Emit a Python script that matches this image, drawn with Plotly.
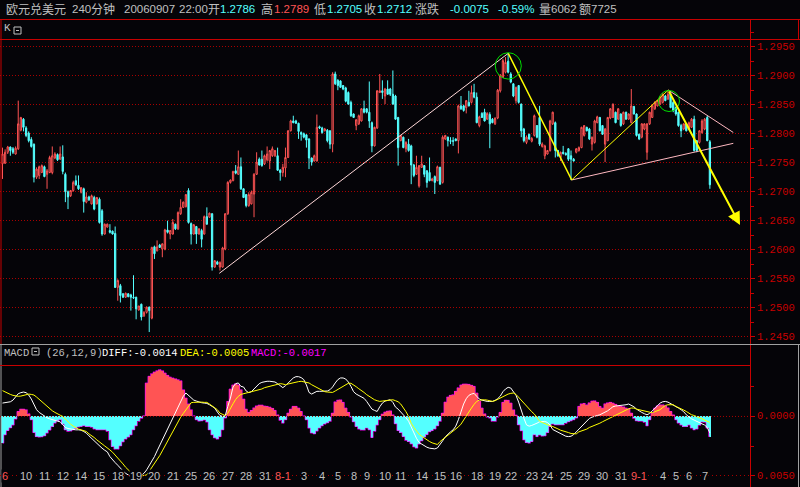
import plotly.graph_objects as go

# ---------------- data ----------------
open_ = [
1.2748,1.2749,1.2768,1.2777,1.2774,1.2765,1.2774,1.2806,1.2825,1.2810,
1.2801,1.2790,1.2782,1.2725,1.2728,1.2733,1.2743,1.2730,1.2733,1.2733,
1.2758,1.2764,1.2756,1.2760,1.2730,1.2700,1.2693,1.2702,1.2719,1.2711,
1.2699,1.2705,1.2682,1.2691,1.2679,1.2690,1.2679,1.2687,1.2667,1.2627,
1.2639,1.2633,1.2632,1.2628,1.2535,1.2538,1.2524,1.2518,1.2524,1.2522,
1.2518,1.2518,1.2496,1.2506,1.2486,1.2492,1.2501,1.2482,1.2605,1.2598,
1.2608,1.2601,1.2601,1.2634,1.2627,1.2627,1.2644,1.2636,1.2662,1.2673,
1.2674,1.2702,1.2645,1.2627,1.2640,1.2627,1.2633,1.2627,1.2657,1.2656,
1.2662,1.2570,1.2579,1.2570,1.2570,1.2601,1.2662,1.2716,1.2719,1.2736,
1.2730,1.2743,1.2705,1.2695,1.2676,1.2679,1.2696,1.2730,1.2756,1.2756,
1.2748,1.2755,1.2753,1.2762,1.2762,1.2762,1.2737,1.2733,1.2741,1.2759,
1.2805,1.2822,1.2822,1.2818,1.2802,1.2800,1.2798,1.2791,1.2758,1.2753,
1.2753,1.2812,1.2810,1.2805,1.2806,1.2805,1.2782,1.2903,1.2892,1.2891,
1.2883,1.2879,1.2871,1.2854,1.2834,1.2814,1.2817,1.2822,1.2843,1.2843,
1.2837,1.2819,1.2779,1.2810,1.2871,1.2874,1.2865,1.2877,1.2877,1.2868,
1.2865,1.2828,1.2788,1.2794,1.2774,1.2782,1.2779,1.2746,1.2730,1.2710,
1.2742,1.2745,1.2736,1.2733,1.2719,1.2726,1.2719,1.2742,1.2716,1.2791,
1.2794,1.2788,1.2788,1.2791,1.2788,1.2848,1.2848,1.2845,1.2854,1.2854,
1.2871,1.2863,1.2814,1.2835,1.2837,1.2825,1.2833,1.2825,1.2817,1.2827,
1.2874,1.2897,1.2906,1.2925,1.2903,1.2886,1.2857,1.2883,1.2851,1.2808,
1.2785,1.2799,1.2787,1.2797,1.2814,1.2828,1.2778,1.2762,1.2765,1.2771,
1.2817,1.2819,1.2771,1.2759,1.2768,1.2766,1.2774,1.2762,1.2756,1.2768,
1.2771,1.2776,1.2797,1.2811,1.2808,1.2782,1.2785,1.2819,1.2828,1.2814,
1.2782,1.2788,1.2827,1.2828,1.2837,1.2825,1.2834,1.2817,1.2837,1.2825,
1.2819,1.2847,1.2834,1.2799,1.2794,1.2808,1.2768,1.2817,1.2828,1.2843,
1.2848,1.2851,1.2854,1.2865,1.2860,1.2868,1.2854,1.2845,1.2837,1.2814,
1.2808,1.2817,1.2808,1.2811,1.2825,1.2788,1.2785,1.2802,1.2808,1.2828,
1.2786]

high = [
1.2776,1.2773,1.2779,1.2778,1.2777,1.2778,1.2857,1.2829,1.2827,1.2813,
1.2804,1.2794,1.2783,1.2742,1.2745,1.2747,1.2745,1.2739,1.2762,1.2778,
1.2768,1.2766,1.2778,1.2780,1.2733,1.2702,1.2703,1.2719,1.2728,1.2728,
1.2708,1.2707,1.2699,1.2693,1.2695,1.2693,1.2691,1.2690,1.2670,1.2645,
1.2645,1.2644,1.2633,1.2640,1.2549,1.2541,1.2525,1.2526,1.2525,1.2524,
1.2556,1.2519,1.2503,1.2507,1.2494,1.2502,1.2502,1.2605,1.2607,1.2616,
1.2610,1.2611,1.2636,1.2650,1.2634,1.2653,1.2645,1.2666,1.2687,1.2683,
1.2696,1.2706,1.2647,1.2644,1.2641,1.2637,1.2636,1.2659,1.2673,1.2664,
1.2663,1.2582,1.2581,1.2580,1.2605,1.2663,1.2718,1.2721,1.2736,1.2746,
1.2771,1.2759,1.2706,1.2696,1.2699,1.2702,1.2732,1.2768,1.2759,1.2771,
1.2764,1.2778,1.2772,1.2778,1.2772,1.2776,1.2739,1.2748,1.2776,1.2806,
1.2824,1.2831,1.2824,1.2819,1.2804,1.2802,1.2799,1.2792,1.2759,1.2764,
1.2833,1.2814,1.2812,1.2810,1.2808,1.2806,1.2906,1.2907,1.2894,1.2892,
1.2884,1.2881,1.2873,1.2857,1.2835,1.2825,1.2833,1.2844,1.2857,1.2844,
1.2890,1.2821,1.2812,1.2875,1.2903,1.2892,1.2879,1.2892,1.2879,1.2909,
1.2867,1.2829,1.2798,1.2795,1.2787,1.2791,1.2781,1.2748,1.2762,1.2746,
1.2762,1.2746,1.2737,1.2759,1.2724,1.2728,1.2745,1.2743,1.2797,1.2798,
1.2795,1.2794,1.2794,1.2792,1.2850,1.2865,1.2850,1.2858,1.2874,1.2883,
1.2886,1.2871,1.2831,1.2837,1.2843,1.2837,1.2837,1.2827,1.2828,1.2877,
1.2903,1.2929,1.2932,1.2939,1.2906,1.2887,1.2881,1.2884,1.2852,1.2810,
1.2797,1.2800,1.2794,1.2833,1.2815,1.2848,1.2785,1.2781,1.2772,1.2824,
1.2838,1.2821,1.2772,1.2769,1.2779,1.2768,1.2775,1.2771,1.2758,1.2775,
1.2778,1.2812,1.2815,1.2812,1.2810,1.2795,1.2824,1.2831,1.2829,1.2815,
1.2810,1.2829,1.2844,1.2852,1.2838,1.2844,1.2835,1.2838,1.2838,1.2835,
1.2877,1.2848,1.2835,1.2800,1.2818,1.2818,1.2818,1.2838,1.2850,1.2856,
1.2858,1.2864,1.2870,1.2867,1.2875,1.2871,1.2857,1.2847,1.2838,1.2817,
1.2818,1.2818,1.2821,1.2827,1.2831,1.2789,1.2806,1.2825,1.2827,1.2831,
1.2789]

low = [
1.2722,1.2748,1.2765,1.2762,1.2765,1.2764,1.2772,1.2804,1.2804,1.2794,
1.2785,1.2776,1.2716,1.2722,1.2722,1.2732,1.2725,1.2705,1.2732,1.2730,
1.2756,1.2753,1.2755,1.2730,1.2682,1.2670,1.2691,1.2700,1.2710,1.2703,
1.2697,1.2664,1.2680,1.2684,1.2678,1.2668,1.2678,1.2645,1.2624,1.2626,
1.2638,1.2628,1.2626,1.2534,1.2512,1.2509,1.2517,1.2517,1.2518,1.2495,
1.2515,1.2480,1.2495,1.2478,1.2484,1.2490,1.2458,1.2480,1.2584,1.2597,
1.2603,1.2587,1.2599,1.2628,1.2618,1.2626,1.2634,1.2634,1.2660,1.2672,
1.2673,1.2645,1.2609,1.2626,1.2610,1.2626,1.2604,1.2626,1.2643,1.2655,
1.2564,1.2569,1.2574,1.2564,1.2569,1.2599,1.2660,1.2714,1.2718,1.2730,
1.2729,1.2703,1.2689,1.2673,1.2674,1.2678,1.2656,1.2729,1.2745,1.2743,
1.2746,1.2752,1.2739,1.2760,1.2760,1.2736,1.2719,1.2726,1.2725,1.2758,
1.2804,1.2818,1.2817,1.2791,1.2788,1.2792,1.2776,1.2739,1.2745,1.2752,
1.2752,1.2808,1.2800,1.2804,1.2785,1.2774,1.2768,1.2884,1.2875,1.2879,
1.2875,1.2854,1.2850,1.2829,1.2827,1.2806,1.2815,1.2821,1.2835,1.2835,
1.2810,1.2768,1.2778,1.2808,1.2870,1.2860,1.2851,1.2867,1.2865,1.2850,
1.2824,1.2745,1.2787,1.2775,1.2768,1.2769,1.2713,1.2725,1.2729,1.2707,
1.2741,1.2725,1.2707,1.2718,1.2718,1.2696,1.2718,1.2712,1.2714,1.2789,
1.2778,1.2782,1.2779,1.2787,1.2766,1.2841,1.2838,1.2835,1.2847,1.2852,
1.2861,1.2818,1.2811,1.2827,1.2821,1.2824,1.2775,1.2818,1.2815,1.2825,
1.2871,1.2896,1.2904,1.2904,1.2887,1.2863,1.2852,1.2852,1.2794,1.2785,
1.2782,1.2789,1.2785,1.2795,1.2792,1.2779,1.2776,1.2756,1.2764,1.2769,
1.2815,1.2759,1.2760,1.2753,1.2764,1.2762,1.2753,1.2720,1.2752,1.2766,
1.2769,1.2775,1.2795,1.2804,1.2789,1.2771,1.2783,1.2818,1.2804,1.2798,
1.2751,1.2787,1.2825,1.2827,1.2818,1.2824,1.2812,1.2815,1.2824,1.2824,
1.2818,1.2833,1.2795,1.2789,1.2792,1.2806,1.2755,1.2815,1.2827,1.2841,
1.2847,1.2850,1.2852,1.2856,1.2858,1.2844,1.2837,1.2831,1.2812,1.2794,
1.2806,1.2804,1.2806,1.2810,1.2769,1.2768,1.2783,1.2800,1.2806,1.2787,
1.2705]

close = [
1.2765,1.2768,1.2777,1.2771,1.2768,1.2775,1.2817,1.2828,1.2811,1.2797,
1.2788,1.2778,1.2725,1.2739,1.2743,1.2745,1.2726,1.2736,1.2759,1.2762,
1.2765,1.2755,1.2765,1.2735,1.2700,1.2691,1.2702,1.2716,1.2712,1.2705,
1.2707,1.2683,1.2691,1.2686,1.2693,1.2670,1.2690,1.2647,1.2627,1.2644,
1.2644,1.2630,1.2627,1.2535,1.2547,1.2521,1.2518,1.2525,1.2519,1.2518,
1.2517,1.2498,1.2503,1.2484,1.2492,1.2501,1.2495,1.2604,1.2593,1.2605,
1.2604,1.2610,1.2634,1.2630,1.2633,1.2647,1.2636,1.2664,1.2673,1.2682,
1.2695,1.2647,1.2627,1.2643,1.2627,1.2636,1.2618,1.2657,1.2644,1.2663,
1.2570,1.2581,1.2575,1.2578,1.2603,1.2662,1.2716,1.2720,1.2735,1.2732,
1.2743,1.2705,1.2690,1.2676,1.2695,1.2699,1.2730,1.2751,1.2746,1.2745,
1.2762,1.2765,1.2771,1.2774,1.2771,1.2737,1.2733,1.2742,1.2759,1.2805,
1.2822,1.2819,1.2818,1.2804,1.2799,1.2794,1.2789,1.2758,1.2751,1.2762,
1.2811,1.2810,1.2802,1.2808,1.2788,1.2782,1.2903,1.2886,1.2883,1.2880,
1.2877,1.2856,1.2851,1.2831,1.2828,1.2824,1.2831,1.2843,1.2837,1.2837,
1.2822,1.2779,1.2811,1.2874,1.2874,1.2871,1.2877,1.2868,1.2868,1.2851,
1.2825,1.2776,1.2797,1.2776,1.2785,1.2771,1.2746,1.2728,1.2742,1.2745,
1.2748,1.2730,1.2716,1.2719,1.2722,1.2716,1.2743,1.2713,1.2794,1.2797,
1.2788,1.2787,1.2787,1.2788,1.2848,1.2843,1.2840,1.2857,1.2848,1.2871,
1.2863,1.2819,1.2829,1.2828,1.2822,1.2835,1.2817,1.2819,1.2827,1.2875,
1.2900,1.2926,1.2923,1.2906,1.2889,1.2865,1.2880,1.2854,1.2805,1.2788,
1.2794,1.2791,1.2792,1.2831,1.2794,1.2782,1.2782,1.2779,1.2771,1.2822,
1.2837,1.2771,1.2762,1.2768,1.2766,1.2764,1.2756,1.2756,1.2753,1.2774,
1.2776,1.2811,1.2814,1.2805,1.2791,1.2794,1.2822,1.2829,1.2805,1.2799,
1.2808,1.2828,1.2843,1.2851,1.2819,1.2843,1.2814,1.2837,1.2825,1.2834,
1.2848,1.2834,1.2797,1.2791,1.2817,1.2817,1.2817,1.2837,1.2848,1.2854,
1.2857,1.2863,1.2868,1.2857,1.2868,1.2845,1.2840,1.2834,1.2814,1.2805,
1.2817,1.2805,1.2819,1.2825,1.2771,1.2771,1.2805,1.2822,1.2825,1.2788,
1.2712]

macd_bar = [
-0.00226,-0.00155,-0.00119,-0.00096,-0.00073,-0.00023,0.00042,0.00062,0.00062,0.00057,
0.00023,-0.00028,-0.00136,-0.00170,-0.00175,-0.00172,-0.00164,-0.00141,-0.00116,-0.00085,
-0.00057,-0.00037,-0.00028,-0.00065,-0.00113,-0.00127,-0.00124,-0.00113,-0.00102,-0.00090,
-0.00085,-0.00079,-0.00085,-0.00085,-0.00093,-0.00107,-0.00113,-0.00113,-0.00113,-0.00113,
-0.00127,-0.00198,-0.00254,-0.00277,-0.00277,-0.00249,-0.00215,-0.00192,-0.00175,-0.00155,
-0.00113,-0.00079,-0.00042,-0.00017,0.00006,0.00283,0.00339,0.00362,0.00376,0.00387,
0.00396,0.00387,0.00367,0.00347,0.00333,0.00325,0.00319,0.00311,0.00302,0.00226,
0.00155,0.00107,0.00057,0.00006,-0.00028,-0.00040,-0.00037,-0.00031,-0.00048,-0.00113,
-0.00155,-0.00181,-0.00192,-0.00170,-0.00113,-0.00014,0.00127,0.00232,0.00266,0.00277,
0.00268,0.00226,0.00147,0.00062,0.00034,0.00051,0.00073,0.00090,0.00096,0.00096,
0.00088,0.00085,0.00079,0.00068,0.00051,0.00014,-0.00034,-0.00057,-0.00028,0.00028,
0.00062,0.00085,0.00085,0.00071,0.00042,0.00006,-0.00028,-0.00099,-0.00141,-0.00147,
-0.00124,-0.00099,-0.00079,-0.00065,-0.00054,-0.00042,0.00028,0.00124,0.00138,0.00141,
0.00119,0.00071,0.00034,-0.00006,-0.00045,-0.00085,-0.00107,-0.00116,-0.00116,-0.00099,
-0.00113,-0.00178,-0.00127,-0.00073,-0.00028,0.00020,0.00037,0.00045,0.00048,0.00014,
-0.00062,-0.00119,-0.00136,-0.00170,-0.00203,-0.00212,-0.00232,-0.00257,-0.00268,-0.00234,
-0.00206,-0.00175,-0.00153,-0.00130,-0.00119,-0.00107,-0.00079,-0.00042,0.00028,0.00121,
0.00164,0.00178,0.00184,0.00212,0.00243,0.00266,0.00274,0.00274,0.00271,0.00263,
0.00254,0.00198,0.00130,0.00071,0.00023,-0.00006,-0.00014,-0.00042,-0.00042,-0.00006,
0.00034,0.00119,0.00138,0.00136,0.00113,0.00057,0.00011,-0.00071,-0.00121,-0.00198,
-0.00220,-0.00226,-0.00212,-0.00155,-0.00170,-0.00158,-0.00167,-0.00164,-0.00136,-0.00085,
-0.00065,-0.00071,-0.00071,-0.00071,-0.00071,-0.00059,-0.00045,-0.00037,-0.00028,-0.00014,
0.00085,0.00107,0.00110,0.00099,0.00116,0.00130,0.00133,0.00119,0.00085,0.00071,
0.00107,0.00116,0.00119,0.00113,0.00102,0.00090,0.00085,0.00082,0.00071,0.00065,
0.00028,-0.00017,-0.00037,-0.00042,-0.00042,-0.00051,-0.00079,-0.00028,0.00028,0.00071,
0.00090,0.00099,0.00099,0.00090,0.00073,0.00042,0.00014,-0.00028,-0.00057,-0.00073,
-0.00085,-0.00085,-0.00073,-0.00099,-0.00113,-0.00107,-0.00076,-0.00048,-0.00051,-0.00099,
-0.00170]

diff = [
0.00113,0.00116,0.00119,0.00124,0.00138,0.00164,0.00192,0.00201,0.00206,0.00201,
0.00181,0.00147,0.00105,0.00057,0.00034,0.00020,0.00000,-0.00011,-0.00020,-0.00028,
-0.00034,-0.00040,-0.00045,-0.00071,-0.00093,-0.00102,-0.00107,-0.00113,-0.00113,-0.00113,
-0.00116,-0.00127,-0.00141,-0.00164,-0.00186,-0.00206,-0.00226,-0.00249,-0.00268,-0.00285,
-0.00299,-0.00339,-0.00367,-0.00390,-0.00412,-0.00438,-0.00460,-0.00480,-0.00497,-0.00509,
-0.00514,-0.00514,-0.00509,-0.00497,-0.00480,-0.00452,-0.00418,-0.00381,-0.00339,-0.00291,
-0.00246,-0.00198,-0.00147,-0.00102,-0.00057,-0.00017,0.00028,0.00076,0.00121,0.00170,
0.00198,0.00175,0.00153,0.00138,0.00130,0.00121,0.00116,0.00113,0.00110,0.00099,
0.00088,0.00071,0.00037,0.00008,0.00000,0.00006,0.00085,0.00155,0.00249,0.00277,
0.00283,0.00254,0.00249,0.00215,0.00201,0.00209,0.00232,0.00254,0.00277,0.00288,
0.00294,0.00297,0.00297,0.00297,0.00291,0.00277,0.00263,0.00243,0.00260,0.00280,
0.00302,0.00325,0.00336,0.00336,0.00328,0.00311,0.00266,0.00203,0.00189,0.00201,
0.00212,0.00212,0.00212,0.00212,0.00215,0.00226,0.00249,0.00283,0.00311,0.00325,
0.00325,0.00316,0.00291,0.00254,0.00209,0.00189,0.00175,0.00167,0.00153,0.00127,
0.00093,0.00062,0.00051,0.00042,0.00082,0.00113,0.00130,0.00136,0.00141,0.00119,
0.00079,0.00062,0.00040,0.00017,-0.00011,-0.00040,-0.00090,-0.00138,-0.00184,-0.00220,
-0.00234,-0.00249,-0.00260,-0.00268,-0.00274,-0.00274,-0.00266,-0.00240,-0.00206,-0.00172,
-0.00147,-0.00130,-0.00113,-0.00082,-0.00028,0.00045,0.00105,0.00150,0.00178,0.00189,
0.00195,0.00170,0.00147,0.00138,0.00130,0.00127,0.00127,0.00127,0.00136,0.00150,
0.00172,0.00209,0.00232,0.00246,0.00240,0.00212,0.00178,0.00121,0.00042,-0.00014,
-0.00071,-0.00082,-0.00076,-0.00068,-0.00057,-0.00045,-0.00042,-0.00042,-0.00051,-0.00073,
-0.00110,-0.00121,-0.00133,-0.00144,-0.00155,-0.00167,-0.00170,-0.00167,-0.00153,-0.00130,
-0.00107,-0.00085,-0.00062,-0.00040,-0.00017,-0.00006,0.00003,0.00008,0.00014,0.00025,
0.00037,0.00048,0.00065,0.00082,0.00088,0.00090,0.00093,0.00096,0.00099,0.00105,
0.00096,0.00082,0.00062,0.00045,0.00034,0.00023,0.00014,0.00025,0.00048,0.00071,
0.00096,0.00113,0.00124,0.00127,0.00121,0.00110,0.00099,0.00085,0.00071,0.00057,
0.00040,0.00014,-0.00006,-0.00020,-0.00031,-0.00042,-0.00054,-0.00062,-0.00073,-0.00093,
-0.00140]

dea = [
0.00218,0.00206,0.00198,0.00186,0.00178,0.00172,0.00170,0.00172,0.00178,0.00186,
0.00189,0.00186,0.00181,0.00164,0.00144,0.00127,0.00105,0.00082,0.00062,0.00048,
0.00034,0.00020,0.00011,0.00000,-0.00023,-0.00045,-0.00065,-0.00082,-0.00096,-0.00107,
-0.00113,-0.00119,-0.00127,-0.00147,-0.00161,-0.00178,-0.00198,-0.00212,-0.00232,-0.00249,
-0.00263,-0.00283,-0.00302,-0.00325,-0.00347,-0.00370,-0.00401,-0.00429,-0.00452,-0.00472,
-0.00483,-0.00494,-0.00500,-0.00503,-0.00500,-0.00494,-0.00463,-0.00432,-0.00401,-0.00367,
-0.00331,-0.00291,-0.00251,-0.00201,-0.00161,-0.00119,-0.00079,-0.00040,-0.00006,0.00025,
0.00054,0.00085,0.00116,0.00119,0.00121,0.00121,0.00121,0.00119,0.00119,0.00105,
0.00090,0.00073,0.00057,0.00028,0.00017,0.00008,0.00028,0.00062,0.00107,0.00144,
0.00170,0.00186,0.00192,0.00198,0.00201,0.00206,0.00212,0.00218,0.00223,0.00232,
0.00243,0.00249,0.00254,0.00260,0.00266,0.00271,0.00277,0.00274,0.00268,0.00274,
0.00280,0.00283,0.00288,0.00294,0.00297,0.00294,0.00291,0.00283,0.00268,0.00257,
0.00243,0.00229,0.00218,0.00209,0.00206,0.00203,0.00203,0.00215,0.00229,0.00243,
0.00257,0.00271,0.00280,0.00280,0.00268,0.00251,0.00234,0.00220,0.00203,0.00184,
0.00170,0.00153,0.00141,0.00133,0.00127,0.00130,0.00133,0.00136,0.00138,0.00141,
0.00133,0.00124,0.00105,0.00075,0.00040,0.00000,-0.00057,-0.00093,-0.00121,-0.00150,
-0.00167,-0.00184,-0.00198,-0.00212,-0.00223,-0.00229,-0.00237,-0.00212,-0.00195,-0.00178,
-0.00161,-0.00144,-0.00127,-0.00107,-0.00088,-0.00065,-0.00028,-0.00003,0.00040,0.00071,
0.00102,0.00127,0.00138,0.00141,0.00141,0.00138,0.00133,0.00127,0.00133,0.00144,
0.00155,0.00170,0.00181,0.00189,0.00195,0.00198,0.00186,0.00161,0.00133,0.00107,
0.00085,0.00062,0.00040,0.00020,-0.00006,-0.00040,-0.00051,-0.00062,-0.00073,-0.00079,
-0.00085,-0.00093,-0.00105,-0.00116,-0.00121,-0.00127,-0.00136,-0.00144,-0.00147,-0.00147,
-0.00130,-0.00124,-0.00119,-0.00107,-0.00093,-0.00085,-0.00079,-0.00068,-0.00057,-0.00045,
-0.00034,-0.00025,-0.00011,0.00000,0.00011,0.00023,0.00034,0.00048,0.00059,0.00065,
0.00071,0.00071,0.00062,0.00057,0.00051,0.00045,0.00040,0.00034,0.00031,0.00040,
0.00048,0.00057,0.00076,0.00093,0.00099,0.00099,0.00099,0.00085,0.00076,0.00065,
0.00054,0.00042,0.00028,0.00014,0.00008,0.00000,-0.00008,-0.00020,-0.00031,-0.00042,
-0.00050]

date_labels = ["6", "10", "11", "12", "14", "15", "18", "19", "20", "21", "25", "26",
               "27", "28", "31", "8-1", "3", "4", "5", "8", "9", "10", "11", "14",
               "15", "16", "18", "19", "22", "23", "24", "25", "29", "30", "31",
               "9-1", "4", "5", "6", "7"]
date_label_bar = [1, 9, 16, 23, 30, 37, 44, 51, 58, 65, 72, 79, 86, 93, 100, 107,
                  115, 122, 128, 134, 139, 146, 152, 160, 167, 173, 181, 188, 194,
                  202, 208, 215, 222, 229, 236, 243, 252, 257, 262, 268]
month_start_labels = {0, 15, 35}

price_ticks = [1.2450, 1.2500, 1.2550, 1.2600, 1.2650, 1.2700, 1.2750,
               1.2800, 1.2850, 1.2900, 1.2950]
macd_ticks = [0.0, -0.005]
macd_ticktext = ["0.0000", "0.0050"]

# hand-drawn analysis lines (bar index, price)
trend_up = [(82.75, 1.25593), (193.05, 1.29386)]
zig1 = [(193.05, 1.29386), (217.25, 1.27202)]
zig2 = [(217.25, 1.27202), (254.12, 1.28753)]
arrow_pts = [(254.12, 1.28753), (281.49, 1.26426)]
wedge_low = [(217.25, 1.27202), (278.94, 1.27834)]
wedge_high = [(254.12, 1.28753), (278.94, 1.28021)]
circle1 = (188.09, 198.02, 1.28941, 1.29397)
circle2 = (250.38, 258.40, 1.28383, 1.28745)

# ---------------- styling ----------------
W, H = 800, 487
BG = "#050408"
AXRED = "#c80000"
GRIDRED = "#a80000"
UP = "#ff5454"
DN = "#54ffff"
GRAY = "#c0c0c0"
MONO = "Liberation Mono, DejaVu Sans Mono, monospace"
CJK = "Noto Sans CJK SC, Liberation Sans, sans-serif"
LAT = "Liberation Sans, Arial, sans-serif"

def px(x):
    return x / W

def py(y):
    return 1 - y / H

idx = list(range(len(close)))
XR = [-0.954, 285.31]

fig = go.Figure()
fig.add_trace(go.Candlestick(
    x=idx, open=open_, high=high, low=low, close=close,
    increasing=dict(line=dict(color=UP, width=1), fillcolor=BG),
    decreasing=dict(line=dict(color=DN, width=1), fillcolor=DN),
    whiskerwidth=0, showlegend=False, hoverinfo="skip",
    xaxis="x", yaxis="y"))

fig.add_trace(go.Bar(
    x=idx, y=macd_bar, width=1.0,
    marker=dict(color=[UP if v >= 0 else DN for v in macd_bar], line=dict(width=0)),
    showlegend=False, hoverinfo="skip", xaxis="x2", yaxis="y2"))
fig.add_trace(go.Scatter(
    x=idx, y=macd_bar, mode="lines", line=dict(color="#ff00ff", width=1, shape="hvh"),
    opacity=0.7, showlegend=False, hoverinfo="skip", xaxis="x2", yaxis="y2"))
fig.add_trace(go.Scatter(
    x=idx, y=diff, mode="lines", line=dict(color="#ffffff", width=1),
    showlegend=False, hoverinfo="skip", xaxis="x2", yaxis="y2"))
fig.add_trace(go.Scatter(
    x=idx, y=dea, mode="lines", line=dict(color="#ffff00", width=1),
    showlegend=False, hoverinfo="skip", xaxis="x2", yaxis="y2"))

shapes = []
def pline(x0, y0, x1, y1, color, width=1, dash=None):
    d = dict(type="line", xref="paper", yref="paper", x0=px(x0), y0=py(y0),
             x1=px(x1), y1=py(y1), line=dict(color=color, width=width), layer="above")
    if dash:
        d["line"]["dash"] = dash
    shapes.append(d)

# panel frames
pline(0, 19.5, 800, 19.5, AXRED)
pline(0, 39.5, 800, 39.5, AXRED)
pline(1, 19.5, 1, 344, AXRED)
pline(798.5, 19.5, 798.5, 39.5, AXRED)
pline(0, 344.5, 800, 344.5, "#a0a0a0")
pline(1, 344.5, 1, 487, "#a0a0a0")
pline(798.5, 344.5, 798.5, 487, "#a0a0a0")
pline(0, 365.5, 750, 365.5, AXRED)
# MACD zero line and date axis line (dotted)
shapes.append(dict(type="line", xref="paper", yref="y2", x0=0, x1=750 / W, y0=0, y1=0,
                   line=dict(color=GRIDRED, width=1, dash="1px,2px"), layer="above"))
pline(0, 475.5, 750, 475.5, GRIDRED, 1, "1px,3px")

# small "collapse" icons
for (bx, by) in [(14, 27), (32, 348)]:
    shapes.append(dict(type="rect", xref="paper", yref="paper", x0=px(bx), x1=px(bx + 7),
                       y0=py(by), y1=py(by + 7), line=dict(color=GRAY, width=1)))
    pline(bx + 2, by + 3.5, bx + 5, by + 3.5, GRAY)

# analysis drawings in data coordinates
def dline(pts, color, width=1):
    (x0, y0), (x1, y1) = pts
    shapes.append(dict(type="line", xref="x", yref="y", x0=x0, y0=y0, x1=x1, y1=y1,
                       line=dict(color=color, width=width), layer="above"))

dline(trend_up, "#ffd8d8", 1)
dline(wedge_low, "#ffb8c0", 1)
dline(wedge_high, "#ffb8c0", 1)
dline(zig1, "#ffff00", 1.5)
dline(zig2, "#ffff00", 1)
for c in (circle1, circle2):
    shapes.append(dict(type="circle", xref="x", yref="y", x0=c[0], x1=c[1], y0=c[2], y1=c[3],
                       line=dict(color="#00e000", width=1), layer="above"))

annotations = []
annotations.append(dict(xref="x", yref="y", x=arrow_pts[1][0], y=arrow_pts[1][1],
                        axref="x", ayref="y", ax=arrow_pts[0][0], ay=arrow_pts[0][1],
                        showarrow=True, arrowhead=2, arrowsize=1.3, arrowwidth=2,
                        arrowcolor="#ffff00", text="", standoff=0, startstandoff=0))

def txt(x, y, s, color, size=12, family=CJK, anchor="left"):
    annotations.append(dict(xref="paper", yref="paper", x=px(x), y=py(y), text=s,
                            showarrow=False, xanchor=anchor, yanchor="middle",
                            font=dict(color=color, size=size, family=family)))

# title line: (x, text, colour, font)
for x, s, col, fam, sz in [
        (4, "欧元兑美元", GRAY, CJK, 12), (70, "240", GRAY, LAT, 11.5),
        (89, "分钟", GRAY, CJK, 12), (122, "20060907", GRAY, LAT, 11.5),
        (177, "22:00", GRAY, LAT, 11.5), (206, "开", GRAY, CJK, 12),
        (218, "1.2786", DN, LAT, 11.5), (259, "高", GRAY, CJK, 12),
        (272, "1.2789", UP, LAT, 11.5), (312, "低", GRAY, CJK, 12),
        (325, "1.2705", DN, LAT, 11.5), (362, "收", GRAY, CJK, 12),
        (375, "1.2712", DN, LAT, 11.5), (413, "涨跌", GRAY, CJK, 12),
        (448, "-0.0075", DN, LAT, 11.5), (496, "-0.59%", DN, LAT, 11.5),
        (537, "量", GRAY, CJK, 12), (549, "6062", GRAY, LAT, 11.5),
        (577, "额", GRAY, CJK, 12), (589, "7725", GRAY, LAT, 11.5)]:
    txt(x, 9, s, col, sz, fam)

txt(2, 28, "K", GRAY, 11, MONO)
for x, s, col in [(2, "MACD", GRAY), (44, "(26,12,9)", GRAY), (100, "DIFF:-0.0014", "#ffffff"),
                  (178, "DEA:-0.0005", "#ffff00"), (249, "MACD:-0.0017", "#ff00ff")]:
    txt(x, 353, s, col, 10.5, MONO)

# right-hand axis labels, placed on the axes' own value scales
for v in price_ticks:
    annotations.append(dict(xref="paper", yref="y", x=px(755), y=v, text=f"{v:.4f}",
                            showarrow=False, xanchor="left", yanchor="middle",
                            font=dict(color=AXRED, size=10.5, family=MONO)))
for v, t in zip(macd_ticks, macd_ticktext):
    annotations.append(dict(xref="paper", yref="y2", x=px(755), y=v, text=t,
                            showarrow=False, xanchor="left", yanchor="middle",
                            font=dict(color=AXRED, size=10.5, family=MONO)))

for i, (lab, b) in enumerate(zip(date_labels, date_label_bar)):
    annotations.append(dict(xref="x2", yref="paper", x=b, y=py(475.5), text=lab,
                            showarrow=False, xanchor="center", yanchor="middle",
                            bgcolor=BG, borderpad=0,
                            font=dict(color=UP if i in month_start_labels else GRAY,
                                      size=11, family=LAT)))

fig.update_layout(
    width=W, height=H, margin=dict(l=0, r=0, t=0, b=0),
    paper_bgcolor=BG, plot_bgcolor=BG, showlegend=False, bargap=0,
    xaxis=dict(domain=[0, 750 / W], range=XR, visible=False,
               rangeslider=dict(visible=False), fixedrange=True),
    yaxis=dict(domain=[py(344), py(19.5)], range=[1.243741, 1.299690], side="right",
               showline=True, linecolor=AXRED, linewidth=1, mirror=False,
               ticks="outside", ticklen=4, tickcolor=AXRED, tickwidth=1,
               tickvals=price_ticks, showticklabels=False,
               showgrid=True, gridcolor=GRIDRED, gridwidth=1, griddash="1px,2px",
               zeroline=False, fixedrange=True,
               minor=dict(dtick=0.0025, tick0=1.245, ticks="outside", ticklen=3,
                          tickcolor=AXRED, showgrid=False)),
    xaxis2=dict(domain=[0, 750 / W], range=XR, visible=False, anchor="y2", fixedrange=True),
    yaxis2=dict(domain=[0, py(344.5)], range=[-0.005958, 0.006076], side="right",
                anchor="x2", showline=True, linecolor=AXRED, linewidth=1,
                ticks="outside", ticklen=4, tickcolor=AXRED,
                tickvals=macd_ticks, showticklabels=False,
                showgrid=False, zeroline=False, fixedrange=True,
                minor=dict(tickvals=[0.0025, -0.0025], ticks="outside", ticklen=3,
                           tickcolor=AXRED, showgrid=False)),
    shapes=shapes, annotations=annotations,
)

fig.write_html("out.html", config={"displayModeBar": False, "staticPlot": True},
               post_script="document.body.style.margin='0px';document.body.style.padding='0px';")
